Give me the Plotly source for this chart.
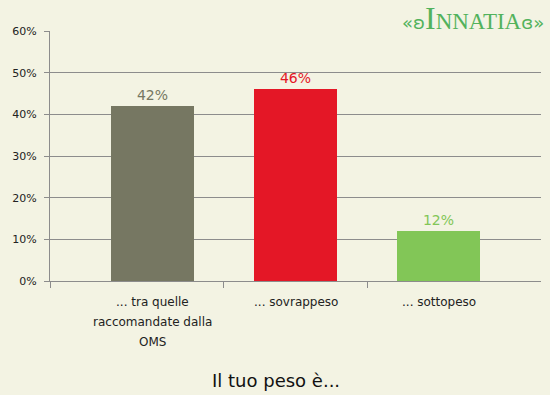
import plotly.graph_objects as go

categories = [["... tra quelle", "raccomandate dalla", "OMS"], ["... sovrappeso"], ["... sottopeso"]]
values = [42, 46, 12]
labels = ["42%", "46%", "12%"]
colors = ["#767762", "#e41726", "#82c657"]
y_ticks = [0, 10, 20, 30, 40, 50, 60]
y_tick_labels = ["0%", "10%", "20%", "30%", "40%", "50%", "60%"]
title = "Il tuo peso è..."

x_pos = list(range(len(categories)))

fig = go.Figure()
fig.add_trace(go.Bar(
    x=x_pos, y=values, width=0.575,
    marker=dict(color=colors, line=dict(width=0)),
    text=labels, textposition="outside", cliponaxis=False,
    textfont=dict(family="DejaVu Sans", size=14, color=colors),
    hoverinfo="skip", showlegend=False,
))
fig.add_trace(go.Scatter(x=[0], y=[0], xaxis="x2", mode="markers",
                         marker=dict(opacity=0), hoverinfo="skip", showlegend=False))

annotations = []
for i, lines in enumerate(categories):
    for k, line in enumerate(lines):
        annotations.append(dict(
            text=line, x=i, xref="x", y=0, yref="paper", yshift=-21 - 20 * k,
            xanchor="center", yanchor="middle", showarrow=False,
            font=dict(size=12, color="#222222", family="DejaVu Sans")))

annotations.append(dict(text=title, xref="paper", yref="paper", x=(276 - 50) / 491, y=0, yshift=-99,
                        xanchor="center", yanchor="middle", showarrow=False,
                        font=dict(size=18, color="#111111", family="DejaVu Sans")))
annotations.append(dict(
    text="<span style='font-size:18px;font-family:DejaVu Sans'>«ʚ</span>I<span style='font-size:23px'>NNATIA</span><span style='font-size:18px;font-family:DejaVu Sans'>ɞ»</span>",
    xref="paper", yref="paper", x=1, y=1, xshift=5, yshift=-7,
    xanchor="right", yanchor="bottom", showarrow=False,
    font=dict(size=32, color="#52b25c", family="Liberation Serif")))

xr = [-0.716, 2.716]
fig.update_layout(
    width=550, height=395,
    paper_bgcolor="#f3f3e3", plot_bgcolor="#f3f3e3",
    margin=dict(l=50, r=9, t=31, b=114),
    font=dict(family="DejaVu Sans", color="#222222"),
    xaxis=dict(range=xr, tickmode="array", tickvals=x_pos, ticktext=["", "", ""],
               ticks="", showgrid=False, zeroline=False,
               showline=True, linecolor="#8c8c8c", linewidth=1, fixedrange=True),
    xaxis2=dict(range=xr, overlaying="x", side="bottom", tickmode="array",
                tickvals=[-0.716, 0.5, 1.5], ticktext=["", "", ""],
                ticks="outside", ticklen=6, tickcolor="#8c8c8c", tickwidth=1,
                showgrid=False, zeroline=False, showline=False),
    yaxis=dict(range=[0, 60], tickmode="array", tickvals=y_ticks, ticktext=y_tick_labels,
               ticks="outside", ticklen=5, tickcolor="#8c8c8c", ticklabelstandoff=5,
               showgrid=True, gridcolor="#8c8c8c", gridwidth=1,
               zeroline=False, showline=True, linecolor="#8c8c8c", linewidth=1,
               tickfont=dict(size=11, color="#222222"), fixedrange=True),
    annotations=annotations,
    bargap=0,
)
fig.write_html("out.html", config={"displayModeBar": False},
               post_script="document.body.style.margin='0';document.body.style.background='#f3f3e3';")
